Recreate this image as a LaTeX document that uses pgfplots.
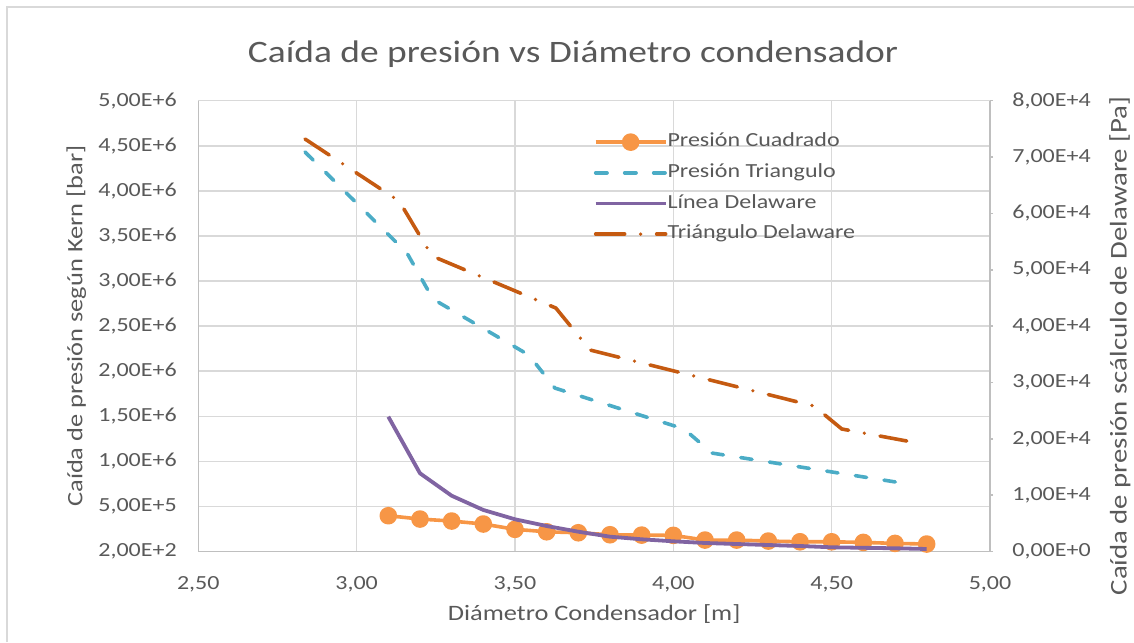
\documentclass[border=0pt]{standalone}
\usepackage{fontspec}
\setmainfont{Carlito}[FakeStretch=1.2]
\usepackage{pgfplots}
\pgfplotsset{compat=1.18}
\definecolor{txt}{RGB}{89,89,89}
\definecolor{gridc}{RGB}{217,217,217}
\definecolor{axc}{RGB}{191,191,191}
\definecolor{cuad}{RGB}{247,150,70}
\definecolor{tri}{RGB}{75,172,198}
\definecolor{lin}{RGB}{128,100,162}
\definecolor{trid}{RGB}{197,90,17}

% 1 px de la referencia = 0.5pt
\pgfplotsset{
  common/.style={
    at={(99.15pt,45.25pt)}, anchor=south west,
    width=395.85pt, height=225.4pt, scale only axis,
    xmin=2.5, xmax=5,
    scaled x ticks=false, scaled y ticks=false,
    tick label style={font=\fontsize{10}{12}\selectfont, text=txt},
    label style={font=\fontsize{11}{13}\selectfont, text=txt},
    axis line style={axc, line width=0.75pt},
  },
  cuadsty/.style={cuad, line width=1.8pt, line join=round, mark=*, mark size=3.5pt, mark options={solid, fill=cuad, draw=cuad}},
  tristy/.style={tri, line width=1.8pt, line cap=round, line join=round, dash pattern=on 5.7pt off 8.8pt},
  linsty/.style={lin, line width=1.9pt, line join=round},
  tridsty/.style={trid, line width=1.8pt, line cap=round, line join=round, dash pattern=on 14.5pt off 8pt on 0pt off 8pt},
}

\begin{document}
\begin{tikzpicture}
\path[use as bounding box] (0pt,0pt) rectangle (567pt,321pt);
\draw[gridc, line width=0.75pt] (3.5pt,0pt) -- (3.5pt,317.5pt) -- (567pt,317.5pt);

% eje izquierdo: Kern
\begin{axis}[
  common,
  ymin=200, ymax=5000200,
  axis y line*=left, axis x line*=bottom,
  major tick length=0pt,
  xtick={2.5,3,3.5,4,4.5,5},
  xticklabels={{2,50},{3,00},{3,50},{4,00},{4,50},{5,00}},
  ytick={200,500200,1000200,1500200,2000200,2500200,3000200,3500200,4000200,4500200,5000200},
  yticklabels={{2,00E+2},{5,00E+5},{1,00E+6},{1,50E+6},{2,00E+6},{2,50E+6},{3,00E+6},{3,50E+6},{4,00E+6},{4,50E+6},{5,00E+6}},
  xmajorgrids, ymajorgrids,
  grid style={gridc, line width=0.75pt},
  xticklabel style={anchor=base, inner sep=0pt, yshift=-19.25pt},
  yticklabel style={anchor=east, inner sep=0pt, xshift=-10.6pt},
  title={Caída de presión vs Diámetro condensador},
  title style={at={(rel axis cs:0.4733,1.059)}, anchor=base, inner sep=0pt, font=\fontsize{15.6}{18}\selectfont, text=txt},
  xlabel={Diámetro Condensador [m]},
  xlabel style={at={(rel axis cs:0.5,-0.152)}, anchor=base, inner sep=0pt},
  ylabel={Caída de presión según Kern [bar]},
  ylabel style={at={(rel axis cs:-0.1541,0.5)}, anchor=center, inner sep=0pt},
]
\addplot[cuadsty] coordinates {
  (3.1,397000) (3.2,360000) (3.3,338000) (3.4,305000) (3.5,246000) (3.6,219000)
  (3.7,208000) (3.8,186000) (3.9,182000) (4.0,179000) (4.1,127000) (4.2,127000)
  (4.3,116000) (4.4,108000) (4.5,108000) (4.6,101000) (4.7,90000) (4.8,83000)
};
\addplot[tristy] coordinates {
  (2.837,4431000) (3.159,3311000) (3.241,2800000) (3.544,2179000)
  (3.626,1813000) (4.034,1359000) (4.122,1092000) (4.722,760000)
};
\end{axis}

% eje derecho: Delaware
\begin{axis}[
  common,
  ymin=0, ymax=80000,
  axis y line*=right, axis x line=none,
  tick align=outside, major tick length=1.5pt,
  tick style={axc, line width=0.75pt},
  ytick={0,10000,20000,30000,40000,50000,60000,70000,80000},
  yticklabels={{0,00E+0},{1,00E+4},{2,00E+4},{3,00E+4},{4,00E+4},{5,00E+4},{6,00E+4},{7,00E+4},{8,00E+4}},
  yticklabel style={anchor=west, inner sep=0pt, xshift=9.5pt},
  ylabel={Caída de presión scálculo de Delaware [Pa]},
  ylabel style={at={(rel axis cs:1.1642,0.456)}, anchor=center, inner sep=0pt, font=\fontsize{12}{14}\selectfont},
  legend image code/.code={\draw[mark repeat=2,mark phase=2,#1] plot coordinates {(0pt,0pt) (17.5pt,0pt) (35pt,0pt)};},
  legend style={at={(rel axis cs:0.499,0.943)}, anchor=north west, draw=none, fill=none,
    inner sep=0pt, row sep=0pt, font=\fontsize{10}{12}\selectfont, text=txt,
    nodes={inner sep=0pt, text height=10pt, text depth=5.33pt},
    /tikz/every even column/.append style={column sep=0pt}},
  legend cell align=left,
]
\addlegendimage{cuadsty}
\addlegendentry{Presión Cuadrado}
\addlegendimage{tristy}
\addlegendentry{Presión Triangulo}
\addplot[linsty] coordinates {
  (3.1,23930) (3.2,13880) (3.3,9900) (3.4,7370) (3.5,5715) (3.6,4525)
  (3.7,3515) (3.8,2630) (3.9,2165) (4.0,1810) (4.1,1510) (4.2,1330)
  (4.3,1150) (4.4,975) (4.5,745) (4.6,655) (4.7,570) (4.8,445)
};
\addlegendentry{Línea Delaware}
\addplot[tridsty] coordinates {
  (2.837,73200) (3.134,62200) (3.238,52440) (3.629,43210)
  (3.737,35760) (4.444,25820) (4.532,21740) (4.737,19610)
};
\addlegendentry{Triángulo Delaware}
\end{axis}
\end{tikzpicture}
\end{document}
